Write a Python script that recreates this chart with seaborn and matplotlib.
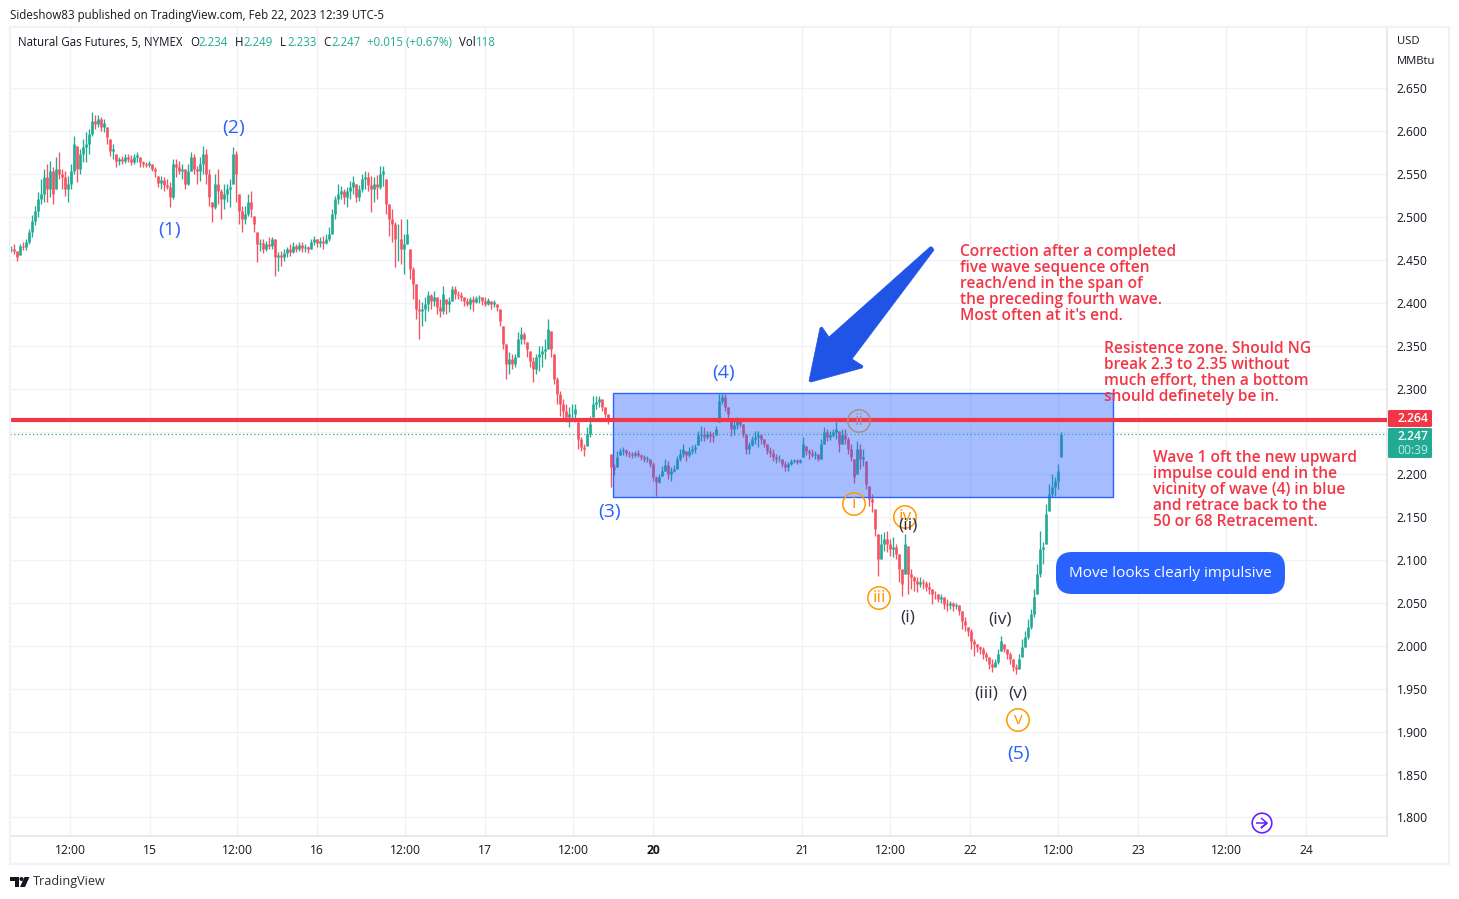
"""Natural gas futures 5 min chart with Elliott wave notes, TradingView look."""
import matplotlib
matplotlib.use("Agg")
import matplotlib.pyplot as plt
import numpy as np
import pandas as pd
import seaborn as sns
from matplotlib.patches import Circle, FancyBboxPatch, Polygon, Rectangle
from matplotlib.transforms import Affine2D

# candles, one per 3 px of screen
highs = [
    2.466, 2.469, 2.461, 2.469, 2.471, 2.475, 2.486, 2.503, 2.513, 2.529,
    2.544, 2.556, 2.562, 2.565, 2.558, 2.570, 2.576, 2.556, 2.554, 2.548,
    2.562, 2.595, 2.583, 2.579, 2.591, 2.599, 2.603, 2.623, 2.619, 2.619,
    2.617, 2.614, 2.605, 2.591, 2.585, 2.574, 2.570, 2.571, 2.574, 2.574,
    2.572, 2.574, 2.576, 2.570, 2.565, 2.564, 2.565, 2.562, 2.558, 2.548,
    2.548, 2.547, 2.544, 2.541, 2.568, 2.568, 2.565, 2.562, 2.556, 2.562,
    2.576, 2.574, 2.560, 2.570, 2.583, 2.579, 2.556, 2.518, 2.550, 2.556,
    2.533, 2.539, 2.539, 2.544, 2.582, 2.577, 2.527, 2.513, 2.513, 2.527,
    2.530, 2.501, 2.483, 2.475, 2.475, 2.472, 2.477, 2.477, 2.475, 2.459,
    2.461, 2.463, 2.465, 2.469, 2.471, 2.469, 2.471, 2.471, 2.469, 2.466,
    2.475, 2.478, 2.475, 2.477, 2.478, 2.480, 2.489, 2.510, 2.525, 2.539,
    2.536, 2.533, 2.535, 2.542, 2.548, 2.539, 2.538, 2.550, 2.554, 2.553,
    2.548, 2.547, 2.549, 2.560, 2.560, 2.544, 2.515, 2.510, 2.494, 2.492,
    2.498, 2.480, 2.498, 2.463, 2.442, 2.422, 2.405, 2.401, 2.407, 2.414,
    2.410, 2.414, 2.407, 2.405, 2.420, 2.405, 2.407, 2.420, 2.420, 2.414,
    2.413, 2.407, 2.406, 2.407, 2.408, 2.408, 2.409, 2.407, 2.407, 2.406,
    2.402, 2.403, 2.399, 2.393, 2.373, 2.352, 2.343, 2.340, 2.340, 2.366,
    2.372, 2.366, 2.354, 2.344, 2.337, 2.340, 2.350, 2.350, 2.358, 2.381,
    2.367, 2.340, 2.314, 2.297, 2.288, 2.282, 2.279, 2.282, 2.282, 2.261,
    2.244, 2.236, 2.255, 2.268, 2.291, 2.291, 2.291, 2.288, 2.279, 2.271,
    2.224, 2.212, 2.227, 2.231, 2.232, 2.230, 2.227, 2.226, 2.227, 2.229,
    2.224, 2.223, 2.222, 2.218, 2.215, 2.198, 2.201, 2.210, 2.218, 2.216,
    2.209, 2.211, 2.222, 2.230, 2.236, 2.227, 2.232, 2.234, 2.236, 2.251,
    2.256, 2.255, 2.251, 2.251, 2.250, 2.256, 2.294, 2.294, 2.294, 2.279,
    2.265, 2.262, 2.267, 2.265, 2.259, 2.247, 2.238, 2.245, 2.251, 2.251,
    2.247, 2.241, 2.236, 2.232, 2.230, 2.224, 2.223, 2.218, 2.216, 2.215,
    2.218, 2.218, 2.218, 2.218, 2.244, 2.233, 2.230, 2.230, 2.227, 2.224,
    2.241, 2.255, 2.253, 2.251, 2.253, 2.261, 2.251, 2.253, 2.253, 2.244,
    2.236, 2.218, 2.239, 2.236, 2.230, 2.216, 2.187, 2.177, 2.160, 2.131,
    2.131, 2.133, 2.134, 2.125, 2.127, 2.119, 2.107, 2.090, 2.131, 2.117,
    2.090, 2.082, 2.080, 2.080, 2.078, 2.076, 2.075, 2.066, 2.064, 2.061,
    2.061, 2.057, 2.055, 2.052, 2.051, 2.050, 2.048, 2.041, 2.034, 2.022,
    2.020, 2.008, 2.002, 2.000, 1.999, 1.993, 1.987, 1.985, 1.985, 1.997,
    2.012, 2.002, 1.997, 1.993, 1.985, 1.979, 1.991, 2.008, 2.017, 2.031,
    2.043, 2.066, 2.096, 2.134, 2.121, 2.166, 2.189, 2.201, 2.197, 2.212,
    2.249,
]
lows = [
    2.459, 2.457, 2.449, 2.456, 2.462, 2.462, 2.469, 2.477, 2.491, 2.500,
    2.515, 2.518, 2.518, 2.524, 2.515, 2.533, 2.544, 2.533, 2.525, 2.518,
    2.533, 2.550, 2.541, 2.550, 2.564, 2.564, 2.574, 2.595, 2.603, 2.605,
    2.600, 2.599, 2.585, 2.571, 2.568, 2.558, 2.561, 2.562, 2.563, 2.564,
    2.561, 2.562, 2.564, 2.558, 2.558, 2.558, 2.558, 2.554, 2.547, 2.535,
    2.533, 2.531, 2.533, 2.512, 2.521, 2.547, 2.550, 2.544, 2.533, 2.538,
    2.554, 2.550, 2.539, 2.542, 2.550, 2.539, 2.513, 2.494, 2.510, 2.515,
    2.498, 2.510, 2.518, 2.512, 2.539, 2.518, 2.492, 2.483, 2.492, 2.501,
    2.500, 2.483, 2.448, 2.461, 2.458, 2.461, 2.463, 2.463, 2.431, 2.437,
    2.443, 2.449, 2.454, 2.455, 2.458, 2.459, 2.461, 2.459, 2.459, 2.458,
    2.463, 2.468, 2.465, 2.465, 2.463, 2.469, 2.472, 2.480, 2.498, 2.515,
    2.521, 2.515, 2.512, 2.521, 2.527, 2.518, 2.519, 2.529, 2.533, 2.531,
    2.506, 2.518, 2.521, 2.533, 2.536, 2.504, 2.478, 2.471, 2.442, 2.449,
    2.445, 2.434, 2.469, 2.428, 2.405, 2.381, 2.358, 2.373, 2.379, 2.391,
    2.393, 2.396, 2.387, 2.384, 2.387, 2.387, 2.389, 2.402, 2.405, 2.405,
    2.402, 2.396, 2.396, 2.393, 2.391, 2.400, 2.400, 2.398, 2.396, 2.398,
    2.393, 2.395, 2.391, 2.373, 2.346, 2.311, 2.317, 2.323, 2.325, 2.337,
    2.352, 2.352, 2.337, 2.325, 2.308, 2.317, 2.321, 2.325, 2.335, 2.346,
    2.337, 2.306, 2.282, 2.268, 2.265, 2.261, 2.255, 2.262, 2.261, 2.230,
    2.227, 2.222, 2.233, 2.244, 2.267, 2.276, 2.279, 2.274, 2.267, 2.259,
    2.185, 2.199, 2.209, 2.223, 2.223, 2.222, 2.220, 2.219, 2.220, 2.220,
    2.217, 2.215, 2.215, 2.209, 2.192, 2.175, 2.190, 2.198, 2.204, 2.195,
    2.192, 2.203, 2.206, 2.216, 2.220, 2.216, 2.220, 2.224, 2.225, 2.234,
    2.239, 2.239, 2.241, 2.238, 2.238, 2.246, 2.261, 2.282, 2.274, 2.265,
    2.245, 2.246, 2.253, 2.255, 2.244, 2.224, 2.224, 2.233, 2.236, 2.232,
    2.236, 2.232, 2.224, 2.220, 2.216, 2.213, 2.215, 2.209, 2.204, 2.204,
    2.211, 2.213, 2.212, 2.213, 2.220, 2.223, 2.218, 2.220, 2.218, 2.216,
    2.218, 2.236, 2.239, 2.240, 2.244, 2.241, 2.226, 2.236, 2.236, 2.224,
    2.216, 2.190, 2.201, 2.206, 2.210, 2.183, 2.163, 2.156, 2.128, 2.082,
    2.101, 2.111, 2.110, 2.105, 2.104, 2.101, 2.075, 2.058, 2.084, 2.061,
    2.066, 2.064, 2.063, 2.069, 2.066, 2.064, 2.061, 2.049, 2.055, 2.051,
    2.050, 2.043, 2.041, 2.043, 2.041, 2.043, 2.036, 2.020, 2.017, 2.012,
    1.997, 1.988, 1.993, 1.991, 1.985, 1.982, 1.973, 1.970, 1.975, 1.979,
    1.994, 1.993, 1.985, 1.979, 1.971, 1.967, 1.973, 1.987, 1.999, 2.008,
    2.020, 2.034, 2.061, 2.080, 2.096, 2.119, 2.157, 2.174, 2.175, 2.183,
    2.220,
]
closes = [
    2.463, 2.461, 2.454, 2.466, 2.465, 2.471, 2.483, 2.495, 2.507, 2.521,
    2.527, 2.547, 2.533, 2.554, 2.527, 2.556, 2.550, 2.547, 2.533, 2.539,
    2.554, 2.585, 2.556, 2.574, 2.582, 2.585, 2.597, 2.612, 2.609, 2.614,
    2.605, 2.610, 2.594, 2.577, 2.580, 2.565, 2.568, 2.565, 2.570, 2.568,
    2.564, 2.570, 2.572, 2.564, 2.562, 2.561, 2.563, 2.556, 2.554, 2.540,
    2.543, 2.537, 2.535, 2.524, 2.562, 2.558, 2.554, 2.556, 2.539, 2.554,
    2.570, 2.556, 2.554, 2.562, 2.574, 2.550, 2.524, 2.512, 2.539, 2.531,
    2.521, 2.527, 2.533, 2.535, 2.574, 2.550, 2.507, 2.498, 2.504, 2.518,
    2.510, 2.492, 2.469, 2.470, 2.463, 2.469, 2.466, 2.475, 2.454, 2.456,
    2.454, 2.458, 2.463, 2.459, 2.466, 2.463, 2.468, 2.464, 2.465, 2.463,
    2.471, 2.475, 2.470, 2.472, 2.470, 2.475, 2.480, 2.504, 2.521, 2.527,
    2.531, 2.524, 2.531, 2.535, 2.541, 2.524, 2.533, 2.544, 2.547, 2.537,
    2.533, 2.539, 2.535, 2.550, 2.554, 2.515, 2.498, 2.492, 2.475, 2.475,
    2.463, 2.469, 2.480, 2.440, 2.422, 2.393, 2.391, 2.393, 2.399, 2.409,
    2.402, 2.407, 2.395, 2.391, 2.410, 2.399, 2.402, 2.416, 2.410, 2.409,
    2.407, 2.402, 2.399, 2.405, 2.401, 2.406, 2.407, 2.402, 2.399, 2.403,
    2.399, 2.401, 2.395, 2.379, 2.352, 2.329, 2.335, 2.329, 2.337, 2.358,
    2.364, 2.358, 2.346, 2.332, 2.323, 2.337, 2.340, 2.344, 2.346, 2.370,
    2.346, 2.311, 2.294, 2.282, 2.274, 2.267, 2.270, 2.270, 2.276, 2.241,
    2.232, 2.230, 2.247, 2.259, 2.282, 2.284, 2.288, 2.279, 2.270, 2.262,
    2.209, 2.206, 2.220, 2.227, 2.228, 2.225, 2.224, 2.223, 2.225, 2.223,
    2.220, 2.218, 2.219, 2.212, 2.197, 2.191, 2.197, 2.204, 2.211, 2.201,
    2.204, 2.206, 2.218, 2.224, 2.230, 2.223, 2.227, 2.230, 2.232, 2.246,
    2.247, 2.244, 2.247, 2.245, 2.244, 2.253, 2.286, 2.290, 2.279, 2.270,
    2.253, 2.258, 2.262, 2.259, 2.247, 2.230, 2.234, 2.241, 2.244, 2.246,
    2.241, 2.236, 2.227, 2.225, 2.220, 2.218, 2.218, 2.212, 2.209, 2.212,
    2.216, 2.217, 2.215, 2.217, 2.236, 2.227, 2.225, 2.223, 2.224, 2.218,
    2.236, 2.250, 2.244, 2.246, 2.250, 2.253, 2.236, 2.246, 2.241, 2.230,
    2.220, 2.197, 2.230, 2.218, 2.220, 2.189, 2.171, 2.168, 2.136, 2.101,
    2.119, 2.125, 2.119, 2.113, 2.115, 2.107, 2.090, 2.072, 2.119, 2.084,
    2.080, 2.076, 2.072, 2.075, 2.073, 2.069, 2.066, 2.061, 2.060, 2.055,
    2.057, 2.049, 2.048, 2.050, 2.047, 2.048, 2.041, 2.029, 2.024, 2.017,
    2.006, 2.002, 1.999, 1.997, 1.991, 1.987, 1.979, 1.975, 1.981, 1.991,
    2.006, 1.997, 1.991, 1.985, 1.975, 1.973, 1.985, 1.999, 2.011, 2.022,
    2.037, 2.057, 2.084, 2.113, 2.115, 2.154, 2.177, 2.185, 2.192, 2.204,
    2.247,
]
first_open = 2.462

# time axis, in candle numbers
time_bars = [19.67, 46.33, 75.33, 102, 131.33, 158, 187.33, 214, 263.67,
             293, 319.67, 349, 375.67, 405, 431.67]
time_labels = ["12:00", "15", "12:00", "16", "12:00", "17", "12:00", "20", "21",
               "12:00", "22", "12:00", "23", "12:00", "24"]
price_ticks = [1.80, 1.85, 1.90, 1.95, 2.00, 2.05, 2.10, 2.15, 2.20, 2.25, 2.30,
               2.35, 2.40, 2.45, 2.50, 2.55, 2.60, 2.65]

support_price = 2.264
last_price = 2.247
zone_top = 2.2955
zone_bottom = 2.1742
zone_start_bar = 200.67
zone_end_bar = 367.33

UP = "#22ab94"
DOWN = "#f7525f"
RED = "#f23645"
BLUE = "#2962ff"
ORANGE = "#ff9800"
INK = "#131722"
GRID = "#f1f2f5"
EDGE = "#e0e3eb"
W, H = 1459, 899
FONT = "Open Sans"

sns.set_theme(style="white")
plt.rcParams["font.family"] = FONT

df = pd.DataFrame({"high": highs, "low": lows, "close": closes})
df["bar"] = df.index
prev_close = df["close"].shift(1).fillna(first_open)
# a candle opens at the previous close, unless the market gapped over a weekend
df["open"] = prev_close.clip(df["low"], df["high"])
df["side"] = np.where(df["close"] >= df["open"], "up", "down")

wicks = df.melt(id_vars=["bar", "side"], value_vars=["high", "low"], value_name="price")
bodies = df.melt(id_vars=["bar", "side"], value_vars=["open", "close"], value_name="price")

fig = plt.figure(figsize=(W / 100, H / 100), dpi=100, facecolor="white")
ax = fig.add_axes([10 / W, 1 - 836 / H, 1377 / W, 809 / H])
pixels = Affine2D().scale(1, -1).translate(0, H)  # screen pixels, from the top left

palette = {"up": UP, "down": DOWN}
for part, width in ((wicks, 0.95), (bodies, 1.9)):
    sns.lineplot(data=part, x="bar", y="price", hue="side", units="bar", estimator=None,
                 palette=palette, linewidth=width, legend=False, ax=ax, sort=False,
                 solid_capstyle="butt", zorder=3)

ax.set_xlim(-1 / 3, 458.67)
ax.set_ylim(1.77838, 2.72171)
ax.set_xlabel("")
ax.set_ylabel("")
ax.set_xticks(time_bars, time_labels)
ax.set_yticks(price_ticks, [f"{p:.3f}" for p in price_ticks])
ax.yaxis.tick_right()
ax.tick_params(axis="both", length=0, labelsize=8.7, labelcolor=INK)
ax.tick_params(axis="x", pad=6)
ax.tick_params(axis="y", pad=7)
ax.get_xticklabels()[7].set_fontweight("bold")
ax.grid(True, color=GRID, linewidth=1)
ax.set_axisbelow(True)
for side in ("top", "left"):
    ax.spines[side].set_visible(False)
for side in ("bottom", "right"):
    ax.spines[side].set_color(EDGE)
    ax.spines[side].set_linewidth(1.1)

ax.add_patch(Rectangle((zone_start_bar, zone_bottom), zone_end_bar - zone_start_bar,
                       zone_top - zone_bottom, facecolor=BLUE, alpha=0.42, edgecolor="none", zorder=4))
ax.add_patch(Rectangle((zone_start_bar, zone_bottom), zone_end_bar - zone_start_bar,
                       zone_top - zone_bottom, facecolor="none", edgecolor=BLUE, linewidth=1, zorder=4))
ax.axhline(last_price, color=UP, linewidth=0.9, linestyle=(0, (1, 2)), zorder=4)
ax.axhline(support_price, color=RED, linewidth=3, zorder=6)


def px_text(x, y, s, **kw):
    kw.setdefault("va", "center")
    kw.setdefault("color", INK)
    kw.setdefault("fontsize", 8.7)
    return fig.text(x, y, s, transform=pixels, **kw)


def px_patch(patch):
    patch.set_transform(pixels)
    fig.add_artist(patch)


# outer frame
px_patch(Rectangle((10, 27), 1439, 837, fill=False, edgecolor=GRID, linewidth=1.6))

px_text(10, 15, "Sideshow83 published on TradingView.com, Feb 22, 2023 12:39 UTC-5", fontsize=8.3)

# legend row
px_text(18, 42, "Natural Gas Futures, 5, NYMEX", fontsize=8.3)
for x, s, c in [(190, "O", INK), (198, "2.234", UP), (235, "H", INK), (243, "2.249", UP),
                (280, "L", INK), (287, "2.233", UP), (323, "C", INK), (331, "2.247", UP),
                (367, "+0.015 (+0.67%)", UP), (459, "Vol", INK), (476, "118", UP)]:
    px_text(x, 42, s, color=c, fontsize=8.3)

px_text(1397, 41, "USD", fontsize=8.1)
px_text(1397, 61, "MMBtu", fontsize=8.1)

# price tags
px_patch(FancyBboxPatch((1388, 410), 44, 17, boxstyle="round,pad=0,rounding_size=1.5", facecolor=RED, edgecolor="none", zorder=7))
px_patch(FancyBboxPatch((1388, 428), 44, 30, boxstyle="round,pad=0,rounding_size=1.5", facecolor=UP, edgecolor="none", zorder=7))
px_text(1397, 418.5, "2.264", color="white", fontweight="semibold", zorder=8)
px_text(1397, 436, "2.247", color="white", fontweight="semibold", zorder=8)
px_text(1397, 450, "00:39", color="#c6ebe5", zorder=8)

# arrow
px_patch(Polygon([(932, 247), (934, 250), (852, 359), (863, 366), (862, 368), (811, 382), (809, 381),
                  (820, 328), (822, 327), (829, 337), (930, 247)], closed=True, facecolor="#1f54e6",
                 edgecolor="#1f54e6", linewidth=0.5, zorder=7))

# notes
for y, s in zip((252, 268, 284, 300, 316),
                ("Correction after a completed", "five wave sequence often", "reach/end in the span of",
                 "the preceding fourth wave.", "Most often at it's end.")):
    px_text(960, y, s, color=RED, fontsize=11.2, fontweight="semibold", zorder=8)
for y, s in zip((349, 365, 381, 397),
                ("Resistence zone. Should NG", "break 2.3 to 2.35 without", "much effort, then a bottom",
                 "should definetely be in.")):
    px_text(1104, y, s, color=RED, fontsize=11.2, fontweight="semibold", zorder=8)
for y, s in zip((458, 474, 490, 506, 522),
                ("Wave 1 oft the new upward", "impulse could end in the", "vicinity of wave (4) in blue",
                 "and retrace back to the", "50 or 68 Retracement.")):
    px_text(1153, y, s, color=RED, fontsize=11.2, fontweight="semibold", zorder=8)

# callout
px_patch(FancyBboxPatch((1056, 552), 229, 42, boxstyle="round,pad=0,rounding_size=16", facecolor=BLUE,
                        edgecolor="none", zorder=7))
px_text(1170.5, 573.5, "Move looks clearly impulsive", color="white", ha="center", fontsize=11, zorder=8)

# wave counts
for x, y, s in [(170, 230, "(1)"), (234, 128, "(2)"), (610, 512, "(3)"), (724, 373, "(4)"), (1019, 754, "(5)")]:
    px_text(x, y, s, color=BLUE, ha="center", fontsize=14, zorder=8)
for x, y, s, c in [(854, 504, "i", ORANGE), (859, 421, "ii", "#a88f80"), (879, 598, "iii", ORANGE),
                   (905, 517, "iv", ORANGE), (1018, 720, "v", ORANGE)]:
    px_patch(Circle((x, y), 11.2, fill=False, edgecolor=c, linewidth=1.1, zorder=8))
    px_text(x, y, s, color=c, ha="center", fontsize=12.5, zorder=8)
for x, y, s in [(908, 617, "(i)"), (908, 526, "(ii)"), (986, 693, "(iii)"), (1000, 619, "(iv)"), (1018, 693, "(v)")]:
    px_text(x, y, s, ha="center", fontsize=12.5, color="#2a2e39", zorder=9)

# session break marker
purple = "#6a1fff"
px_patch(Circle((1262, 823), 9.8, fill=False, edgecolor=purple, linewidth=1.2, zorder=8))
px_patch(Polygon([(1261, 818), (1267, 823), (1261, 828), (1267, 823), (1256, 823)], closed=False, fill=False,
                 edgecolor=purple, linewidth=1.1, zorder=8))

# TradingView logo
px_patch(Polygon([(10, 877), (19, 877), (19, 887), (15, 887), (15, 881), (10, 881)], facecolor="#131722", edgecolor="none"))
px_patch(Circle((21.5, 879), 2, facecolor="#131722", edgecolor="none"))
px_patch(Polygon([(24.5, 877), (29.5, 877), (25, 887), (20, 887)], facecolor="#131722", edgecolor="none"))
px_text(33, 881.5, "TradingView", fontsize=9.1, color="#2a2e39")

fig.savefig("out.png", dpi=100, facecolor="white")
